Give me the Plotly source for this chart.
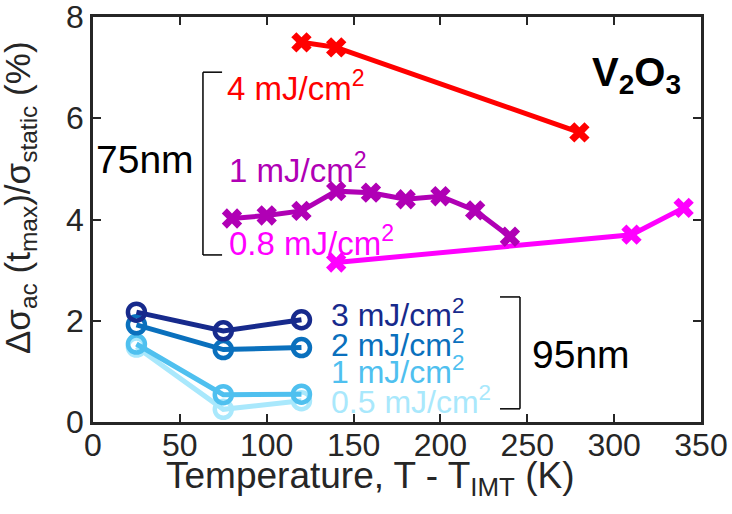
import plotly.graph_objects as go

# 75 nm film (crosses)
t_4mJ = [120, 140, 280]
v_4mJ = [7.50, 7.40, 5.72]
t_1mJ_75 = [80, 100, 120, 140, 160, 180, 200, 220, 240]
v_1mJ_75 = [4.02, 4.08, 4.17, 4.56, 4.53, 4.40, 4.46, 4.18, 3.66]
t_08mJ = [140, 310, 340]
v_08mJ = [3.15, 3.70, 4.23]

# 95 nm film (circles)
t_95 = [25, 75, 120]
v_3mJ = [2.17, 1.80, 2.02]
v_2mJ = [1.92, 1.43, 1.47]
v_1mJ_95 = [1.54, 0.54, 0.55]
v_05mJ = [1.48, 0.25, 0.42]

x_ticks = [0, 50, 100, 150, 200, 250, 300, 350]
y_ticks = [0, 2, 4, 6, 8]

FONT = "Liberation Sans, Arial, Helvetica, sans-serif"
AX = "#262626"

C_RED = "#ff0000"
C_PUR = "#b000b5"
C_MAG = "#ff00ff"
C_3 = "#172a8c"
C_2 = "#0a70bd"
C_1 = "#4fc0ef"
C_05 = "#a9e8fc"

fig = go.Figure()

def cross(x, y, c):
    fig.add_trace(go.Scatter(x=x, y=y, mode="lines+markers",
                             line=dict(color=c, width=5),
                             marker=dict(symbol="x", size=18, color=c, line=dict(width=0)),
                             showlegend=False))

def circ(x, y, c):
    fig.add_trace(go.Scatter(x=x, y=y, mode="lines+markers",
                             line=dict(color=c, width=5),
                             marker=dict(symbol="circle-open", size=17, color=c, line=dict(width=4.5, color=c)),
                             showlegend=False))

circ(t_95, v_05mJ, C_05)
circ(t_95, v_1mJ_95, C_1)
circ(t_95, v_2mJ, C_2)
circ(t_95, v_3mJ, C_3)
cross(t_08mJ, v_08mJ, C_MAG)
cross(t_1mJ_75, v_1mJ_75, C_PUR)
cross(t_4mJ, v_4mJ, C_RED)

ann = []
def label(x, y, text, color, size=33, xanchor="left", bold=False):
    if bold:
        text = "<b>" + text + "</b>"
    ann.append(dict(x=x, y=y, xref="x", yref="y", text=text, showarrow=False,
                    xanchor=xanchor, yanchor="middle",
                    font=dict(family=FONT, size=size, color=color)))

label(76, 6.64, "4 mJ/cm<sup>2</sup>", C_RED)
label(77, 5.02, "1 mJ/cm<sup>2</sup>", C_PUR)
label(77, 3.58, "0.8 mJ/cm<sup>2</sup>", C_MAG)
label(59.5, 5.18, "75nm", "#000000", size=39, xanchor="right")
label(136, 2.15, "3 mJ/cm<sup>2</sup>", C_3, size=32)
label(136, 1.56, "2 mJ/cm<sup>2</sup>", C_2, size=32)
label(136, 1.03, "1 mJ/cm<sup>2</sup>", C_1, size=32)
label(136, 0.43, "0.5 mJ/cm<sup>2</sup>", C_05, size=32)
label(251.5, 1.34, "95nm", "#000000", size=39)
label(313, 6.85, "V<sub>2</sub>O<sub>3</sub>", "#000000", size=40, xanchor="center", bold=True)

# axis titles
ann.append(dict(x=0.4556, y=-0.138, xref="paper", yref="paper", showarrow=False,
                text="Temperature, T - T<sub>IMT</sub> (K)", xanchor="center", yanchor="middle",
                font=dict(family=FONT, size=37, color=AX)))
ann.append(dict(x=-0.120, y=0.553, xref="paper", yref="paper", showarrow=False, textangle=-90,
                text="Δσ<sub>ac</sub> (t<sub>max</sub>)/σ<sub>static</sub> (%)", xanchor="center", yanchor="middle",
                font=dict(family=FONT, size=35, color=AX)))

shapes = []
def bracket(xv, xt, y0, y1):
    ln = dict(color="#000000", width=1.5)
    shapes.append(dict(type="line", xref="x", yref="y", x0=xv, x1=xv, y0=y0, y1=y1, line=ln))
    shapes.append(dict(type="line", xref="x", yref="y", x0=xv, x1=xt, y0=y0, y1=y0, line=ln))
    shapes.append(dict(type="line", xref="x", yref="y", x0=xv, x1=xt, y0=y1, y1=y1, line=ln))

bracket(63.3, 74.3, 3.30, 6.91)
bracket(245.8, 234.3, 0.26, 2.47)

fig.update_layout(
    width=732, height=514,
    margin=dict(l=93, r=31, t=17, b=92, autoexpand=False),
    paper_bgcolor="white", plot_bgcolor="white",
    annotations=ann, shapes=shapes,
    font=dict(family=FONT, color=AX),
)
fig.update_xaxes(range=[0, 350], tickvals=x_ticks, ticktext=[str(v) for v in x_ticks],
                 ticks="inside", ticklen=8, tickwidth=2, tickcolor=AX,
                 showline=True, linewidth=2.5, linecolor=AX, mirror="ticks",
                 showgrid=False, zeroline=False, automargin=False, ticklabelstandoff=-7,
                 tickfont=dict(family=FONT, size=32, color=AX))
fig.update_yaxes(range=[-0.0001, 8.0001], tickvals=y_ticks, ticktext=[str(v) for v in y_ticks],
                 ticks="inside", ticklen=8, tickwidth=2, tickcolor=AX,
                 showline=True, linewidth=2.5, linecolor=AX, mirror="ticks",
                 showgrid=False, zeroline=False, ticklabeloverflow="allow", automargin=False,
                 tickfont=dict(family=FONT, size=32, color=AX))

fig.write_html("out.html")
